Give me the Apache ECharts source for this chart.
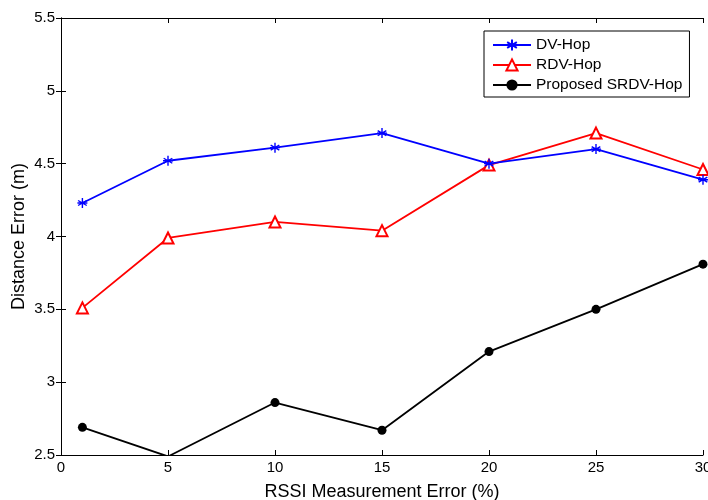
<!DOCTYPE html>
<html>
<head>
<meta charset="utf-8">
<script src="https://cdn.jsdelivr.net/npm/echarts@6/dist/echarts.min.js"></script>
<style>html,body{margin:0;padding:0;background:#fff}#c{width:708px;height:500px}</style>
</head>
<body>
<div id="c"></div>
<script>
var xValues = [1, 5, 10, 15, 20, 25, 30];
var dvHop = [4.23, 4.52, 4.61, 4.71, 4.50, 4.60, 4.39];
var rdvHop = [3.51, 3.99, 4.10, 4.04, 4.49, 4.71, 4.46];
var srdvHop = [2.69, 2.49, 2.86, 2.67, 3.21, 3.50, 3.81];
var seriesNames = ['DV-Hop', 'RDV-Hop', 'Proposed SRDV-Hop'];

function pairs(ys) { return xValues.map(function (x, i) { return [x, ys[i]]; }); }

var FONT = '"Liberation Sans", Arial, sans-serif';
var star = 'path://M0,-10L0,10M-8.66,-5L8.66,5M-8.66,5L8.66,-5M-10,0L10,0';

var chart = echarts.init(document.getElementById('c'), null, {renderer: 'canvas'});
var axisCommon = {
  axisLine: {show: true, lineStyle: {color: '#000', width: 1}},
  axisTick: {show: true, inside: true, length: 5, lineStyle: {color: '#000'}},
  splitLine: {show: false}
};
chart.setOption({
  animation: false,
  backgroundColor: '#fff',
  grid: {left: 61, right: 5, top: 18, bottom: 45, containLabel: false, outerBoundsMode: 'none'},
  xAxis: [
    Object.assign({type: 'value', min: 0, max: 30, interval: 5, position: 'bottom',
      name: 'RSSI Measurement Error (%)', nameLocation: 'middle', nameGap: 28, nameMoveOverlap: false,
      nameTextStyle: {fontFamily: FONT, fontSize: 18, color: '#000'},
      axisLabel: {fontFamily: FONT, fontSize: 15, color: '#000', margin: 5}}, axisCommon),
    Object.assign({type: 'value', min: 0, max: 30, interval: 5, position: 'top',
      axisLabel: {show: false}}, axisCommon)
  ],
  yAxis: [
    Object.assign({type: 'value', min: 2.5, max: 5.5, interval: 0.5, position: 'left',
      name: 'Distance Error (m)', nameLocation: 'middle', nameGap: 33, nameMoveOverlap: false,
      nameTextStyle: {fontFamily: FONT, fontSize: 18, color: '#000'},
      axisLabel: {fontFamily: FONT, fontSize: 15, color: '#000', margin: 6}}, axisCommon),
    Object.assign({type: 'value', min: 2.5, max: 5.5, interval: 0.5, position: 'right',
      axisLabel: {show: false}}, axisCommon)
  ],
  legend: {
    left: 484, top: 31, orient: 'vertical',
    backgroundColor: '#fff', borderColor: '#000', borderWidth: 1,
    padding: [6, 7, 4, 8], itemGap: 4, itemWidth: 38, itemHeight: 14,
    textStyle: {fontFamily: FONT, fontSize: 15.5, color: '#000'},
    data: seriesNames
  },
  series: [
    {name: seriesNames[0], type: 'line', data: pairs(dvHop), symbol: star, symbolSize: 10,
      lineStyle: {color: '#0000ff', width: 1.8},
      itemStyle: {color: '#0000ff', borderColor: '#0000ff', borderWidth: 1.4}, z: 3},
    {name: seriesNames[1], type: 'line', data: pairs(rdvHop), symbol: 'emptyTriangle', symbolSize: 11,
      lineStyle: {color: '#ff0000', width: 1.8},
      itemStyle: {color: '#ff0000', borderColor: '#ff0000', borderWidth: 1.6}, z: 2},
    {name: seriesNames[2], type: 'line', data: pairs(srdvHop), symbol: 'circle', symbolSize: 9,
      lineStyle: {color: '#000', width: 1.8},
      itemStyle: {color: '#000'}, z: 4}
  ]
});
</script>
</body>
</html>
